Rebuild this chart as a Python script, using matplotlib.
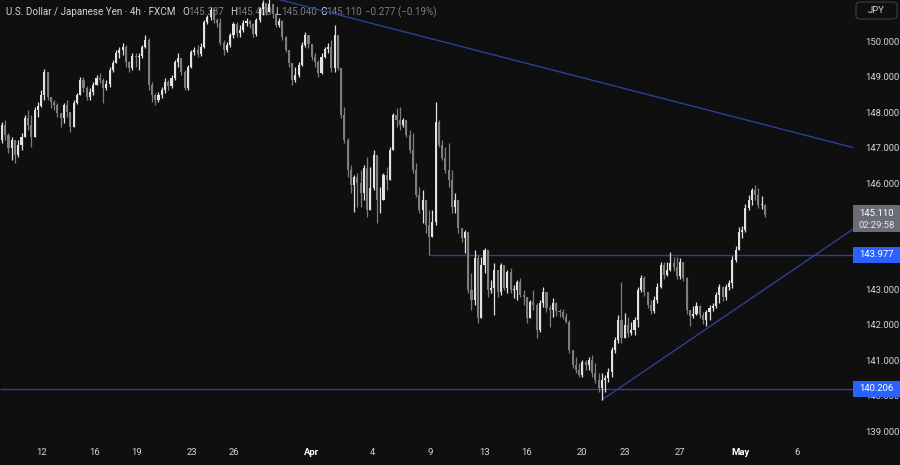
import matplotlib.pyplot as plt
import matplotlib.transforms as mtransforms
from matplotlib.patches import Rectangle, FancyBboxPatch
import numpy as np

plt.rcParams['font.family'] = ['Roboto', 'DejaVu Sans']

# USDJPY 4h candles, oldest first (open of each = close of the one before)
first_open = 147.21
closes = [
    147.64, 147.35, 146.98, 147.21, 146.79, 147.07, 147.29, 147.83, 147.64, 147.29,
    148.06, 148.17, 148.48, 149.12, 148.42, 148.28, 148.20, 147.97, 147.83, 148.20,
    148.00, 147.58, 148.25, 148.48, 148.90, 148.67, 148.42, 148.56, 148.76, 148.96,
    148.90, 148.67, 148.79, 149.18, 149.38, 149.66, 149.75, 149.83, 149.41, 149.24,
    149.58, 149.55, 149.58, 149.83, 150.03, 148.76, 148.48,
    148.34, 148.48, 148.62, 148.84, 148.73, 148.96, 149.41, 149.52, 149.12, 148.67,
    149.27, 149.69, 149.75, 149.64, 149.83, 150.53, 150.67, 150.87, 150.59, 150.51,
    149.94, 149.75, 149.89, 150.17, 150.48, 150.23, 150.31, 150.51, 150.56, 150.48,
    150.20, 150.59, 150.90, 151.07, 150.82, 151.04, 150.76, 150.45, 150.56, 150.11,
    149.75, 149.38, 148.90, 149.04, 149.33,
    149.89, 150.17, 149.92, 149.55, 149.41, 149.10, 149.55, 149.78, 149.83, 149.24,
    150.17, 149.24, 147.92, 147.21, 146.37, 145.95, 146.17, 146.00, 145.72, 146.42,
    145.24, 145.86, 146.79, 145.52, 145.52, 146.23, 146.09, 146.93, 147.92, 147.78,
    147.64, 147.78, 147.35, 146.93, 146.37, 145.66, 145.24, 145.52, 144.82, 144.48,
    144.90, 147.72, 147.07, 146.70, 146.37, 146.09, 145.32, 145.52, 144.73, 144.45,
    144.62,
    142.99, 142.70, 143.88, 142.19, 143.69, 144.11, 142.99, 143.04, 143.55, 142.93,
    143.69, 143.04, 143.49, 142.99, 142.99, 143.21, 142.85, 142.79, 142.19, 142.65,
    142.56, 141.86, 142.62, 142.93, 142.48, 142.42, 142.62, 142.39, 142.37, 142.22,
    142.08, 141.30, 140.87, 140.73, 140.59, 140.96, 140.87, 141.01, 140.65, 140.45,
    140.23, 140.45, 140.51, 140.68, 141.30, 141.58, 142.14, 141.63, 142.00, 141.77,
    141.86, 142.14, 142.99, 143.32, 142.93, 142.56, 142.39, 142.70, 143.07, 143.69,
    143.41, 143.55, 143.75, 143.63, 143.38, 143.78, 143.32, 142.42, 142.25, 142.31,
    142.54, 142.28, 142.14, 142.37, 142.48, 142.54, 142.85, 143.07, 142.79, 143.07,
    143.18, 143.83, 144.11, 144.62, 144.68, 145.30, 145.52, 145.80, 145.66, 145.38,
    145.39, 145.11,
]
highs = [
    147.72, 147.78, 147.41, 147.29, 147.21, 147.21, 147.41, 147.92, 148.06, 147.92,
    148.14, 148.28, 148.62, 149.21, 149.12, 148.39, 148.34, 148.25, 147.97, 148.25,
    148.34, 148.00, 148.34, 148.54, 148.98, 148.98, 148.73, 148.67, 148.84, 149.04,
    149.10, 148.96, 148.90, 149.27, 149.47, 149.75, 149.83, 149.94, 149.89, 149.44,
    149.66, 149.66, 149.66, 149.89, 150.17, 150.08, 148.84,
    148.54, 148.56, 148.70, 148.96, 148.90, 149.04, 149.47, 149.66, 149.52, 149.18,
    149.33, 149.75, 149.83, 149.89, 149.94, 150.59, 150.73, 150.96, 150.93, 150.64,
    150.64, 150.03, 149.97, 150.23, 150.53, 150.53, 150.45, 150.59, 150.64, 150.59,
    150.51, 150.64, 150.96, 151.16, 151.07, 151.24, 151.04, 150.82, 150.64, 150.59,
    150.14, 149.75, 149.38, 149.27, 149.41,
    149.97, 150.25, 150.17, 149.92, 149.66, 149.47, 149.66, 149.83, 149.94, 150.03,
    150.45, 150.17, 149.24, 148.14, 147.26, 146.51, 146.23, 146.28, 146.37, 146.51,
    146.73, 146.45, 146.93, 146.57, 145.88, 146.28, 146.45, 147.01, 147.97, 148.11,
    148.14, 147.83, 147.78, 147.49, 147.41, 146.57, 145.88, 145.80, 145.52, 145.24,
    145.24, 148.28, 147.78, 147.21, 147.01, 147.13, 146.37, 145.72, 145.52, 144.68,
    144.68,
    144.11, 143.47, 144.11, 143.97, 143.91, 144.17, 143.97, 143.27, 143.75, 143.55,
    143.75, 143.69, 143.55, 143.60, 143.13, 143.27, 143.32, 142.99, 142.70, 142.70,
    142.99, 142.62, 142.70, 143.07, 142.93, 142.56, 142.76, 142.65, 142.45, 142.45,
    142.34, 142.14, 141.30, 141.10, 140.93, 141.01, 141.01, 141.10, 141.16, 140.93,
    140.65, 140.65, 140.59, 140.79, 141.38, 141.66, 142.28, 143.21, 142.34, 142.22,
    142.08, 142.22, 143.07, 143.41, 143.38, 142.93, 142.70, 142.82, 143.18, 143.78,
    143.78, 143.78, 144.06, 143.91, 143.91, 143.89, 143.78, 143.35, 142.42, 142.54,
    142.65, 142.56, 142.37, 142.42, 142.56, 142.62, 142.93, 143.16, 143.10, 143.16,
    143.27, 143.94, 144.23, 144.76, 144.79, 145.41, 145.66, 145.86, 145.94, 145.86,
    145.63, 145.40,
]
lows = [
    147.13, 147.21, 146.85, 146.65, 146.57, 146.73, 146.93, 147.29, 147.49, 147.01,
    147.29, 147.86, 148.14, 148.34, 148.34, 148.11, 148.06, 147.86, 147.58, 147.69,
    147.86, 147.44, 147.58, 148.23, 148.48, 148.56, 148.34, 148.34, 148.48, 148.76,
    148.82, 148.25, 148.62, 148.70, 149.12, 149.38, 149.52, 149.61, 149.27, 149.12,
    149.18, 149.27, 149.18, 149.52, 149.80, 148.62, 148.28,
    148.20, 148.28, 148.39, 148.54, 148.62, 148.67, 148.90, 149.27, 149.04, 148.62,
    148.62, 149.24, 149.61, 149.55, 149.58, 149.80, 150.48, 150.59, 150.51, 150.39,
    149.89, 149.61, 149.69, 149.83, 150.08, 150.11, 150.11, 150.25, 150.42, 150.36,
    150.11, 150.14, 150.53, 150.73, 150.73, 150.82, 150.64, 150.39, 150.39, 150.03,
    149.69, 149.27, 148.76, 148.84, 148.98,
    149.30, 149.83, 149.80, 149.47, 149.27, 148.98, 149.07, 149.52, 149.66, 149.12,
    149.12, 149.18, 147.83, 147.13, 146.17, 145.72, 145.18, 145.32, 145.32, 145.52,
    145.04, 145.24, 145.80, 144.88, 145.16, 145.88, 145.80, 146.17, 146.93, 147.58,
    147.49, 147.58, 147.29, 146.85, 146.28, 145.60, 145.16, 144.88, 144.59, 143.97,
    144.54, 144.82, 147.01, 146.65, 146.28, 145.88, 145.16, 145.16, 144.59, 144.34,
    144.03,
    142.90, 142.42, 142.56, 142.06, 142.22, 143.47, 142.79, 142.90, 142.28, 142.79,
    142.85, 142.99, 142.90, 142.90, 142.76, 142.70, 142.79, 142.56, 142.06, 142.19,
    142.42, 141.63, 141.80, 142.51, 142.37, 141.94, 142.22, 142.25, 142.22, 142.17,
    142.06, 141.21, 140.79, 140.65, 140.53, 140.53, 140.73, 140.73, 140.53, 140.37,
    140.11, 139.89, 140.11, 140.39, 140.53, 141.21, 141.49, 141.49, 141.72, 141.66,
    141.72, 141.72, 141.94, 142.93, 142.82, 142.48, 142.31, 142.34, 142.62, 143.04,
    143.30, 143.38, 143.52, 143.52, 143.30, 143.30, 143.24, 142.31, 141.97, 142.19,
    142.28, 142.19, 142.03, 141.97, 142.14, 142.39, 142.48, 142.62, 142.68, 142.70,
    142.99, 143.04, 143.77, 144.11, 144.45, 144.62, 145.24, 145.38, 145.52, 145.30,
    145.27, 145.04,
]

date_pos = [12, 28.5, 41.4, 58.3, 71.2, 94.8, 113.5, 131.3, 147.9, 161, 177.9, 191.1, 208, 226.4, 243.9]
date_labels = ['12', '16', '19', '23', '26', 'Apr', '4', '9', '13', '16', '20', '23', '27', 'May', '6']

# 144 and 145 are hidden behind the price labels, as on the original
price_ticks = [139, 140, 141, 142, 143, 146, 147, 148, 149, 150]
last_price = 145.110
countdown = '02:29:58'
support_level = 143.977
support_from = 131
floor_level = 140.206
res_line = [(82, 151.24), (261, 147.00)]
rise_line = [(184, 139.89), (261, 144.70)]

title = 'U.S. Dollar / Japanese Yen · 4h · FXCM'
ohlc = [('O', '145.387'), ('H', '145.400'), ('L', '145.040'), ('C', '145.110')]
change = '\u22120.277 (\u22120.19%)'

BG = '#0f0f0f'
UP = '#e2e2e2'
DOWN = '#7d7d7d'
BLUE = '#2a4195'
LABEL_BLUE = '#2962ff'
TXT = '#d1d4dc'

closes = np.array(closes)
opens = np.r_[first_open, closes[:-1]]
highs = np.maximum(np.array(highs), np.maximum(opens, closes))
lows = np.minimum(np.array(lows), np.minimum(opens, closes))
x = np.arange(len(closes))
cols = np.where(closes >= opens, UP, DOWN)

fig = plt.figure(figsize=(9, 4.65), dpi=100, facecolor=BG)
ax = fig.add_axes([0, 28 / 465, 853 / 900, 437 / 465], facecolor=BG)
xmin, xmax = -0.6, 261
ax.set_xlim(xmin, xmax)
ax.set_ylim(138.845, 151.155)

# lines drawn first so candles sit on top
ax.hlines(floor_level, xmin, xmax, color=BLUE, lw=1, zorder=1)
ax.hlines(support_level, support_from, xmax, color=BLUE, lw=1, zorder=1)
ax.plot([p[0] for p in res_line], [p[1] for p in res_line], color=BLUE, lw=1, zorder=1)
ax.plot([p[0] for p in rise_line], [p[1] for p in rise_line], color=BLUE, lw=1, zorder=1)

ax.vlines(x, lows, highs, colors=cols, lw=0.9, zorder=2)
ax.bar(x, np.maximum(np.abs(closes - opens), 0.015), bottom=np.minimum(opens, closes),
       width=0.64, color=cols, linewidth=0, zorder=3)

for s in ax.spines.values():
    s.set_visible(False)

ax.yaxis.tick_right()
ax.set_yticks(price_ticks)
ax.set_yticklabels([f'{p:.3f}' for p in price_ticks])
ax.tick_params(axis='y', length=0, pad=9, colors=TXT, labelsize=6.8)
ax.set_xticks(date_pos)
ax.set_xticklabels(date_labels)
ax.tick_params(axis='x', length=0, pad=8, colors=TXT, labelsize=6.8)
for t in ax.get_xticklabels():
    if t.get_text() in ('Apr', 'May'):
        t.set_fontweight('bold')
        t.set_color('white')

# legend line at top
ax.text(6 / 900, 1 - 12 / 465, title, transform=fig.transFigure, color=TXT,
        fontsize=7.1, va='center', ha='left', zorder=0.5)
ohlc_x = [182, 230, 275, 320]
for (k, v), px in zip(ohlc, ohlc_x):
    ax.text(px / 900, 1 - 12 / 465, k, transform=fig.transFigure, color=TXT,
            fontsize=7.1, va='center', ha='left', zorder=0.5)
    ax.text((px + 6) / 900, 1 - 12 / 465, v, transform=fig.transFigure, color=DOWN,
            fontsize=7.1, va='center', ha='left', zorder=0.5)
ax.text(365 / 900, 1 - 12 / 465, change, transform=fig.transFigure, color=DOWN,
        fontsize=7.1, va='center', ha='left', zorder=0.5)

# price labels on the right scale
blend = mtransforms.blended_transform_factory(fig.transFigure, ax.transData)
ax0 = 853 / 900
w = 47 / 900
fig.add_artist(Rectangle((ax0, last_price - 0.49), w, 0.76, transform=blend,
                         facecolor='#6a6d75', edgecolor='none', zorder=5))
fig.text(ax0 + w / 2, last_price + 0.02, f'{last_price:.3f}', transform=blend, color='white',
         fontsize=6.8, ha='center', va='center', zorder=6)
fig.text(ax0 + w / 2, last_price - 0.31, countdown, transform=blend, color='#e6e6e6',
         fontsize=6.8, ha='center', va='center', zorder=6)
for lvl in (support_level, floor_level):
    fig.add_artist(Rectangle((ax0, lvl - 0.225), w, 0.45, transform=blend,
                             facecolor=LABEL_BLUE, edgecolor='none', zorder=5))
    fig.text(ax0 + w / 2, lvl, f'{lvl:.3f}', transform=blend, color='white',
             fontsize=6.8, ha='center', va='center', zorder=6)

fig.add_artist(FancyBboxPatch((856 / 900, 1 - 19 / 465), 41 / 900, 17 / 465,
                              boxstyle='round,pad=0,rounding_size=0.006',
                              transform=fig.transFigure, facecolor=BG,
                              edgecolor='#3a3d45', lw=0.8, zorder=5))
fig.text(876 / 900, 1 - 10.5 / 465, 'JPY', color=TXT, fontsize=6.8,
         ha='center', va='center', zorder=6)

fig.savefig('out.png', dpi=100, facecolor=BG)
